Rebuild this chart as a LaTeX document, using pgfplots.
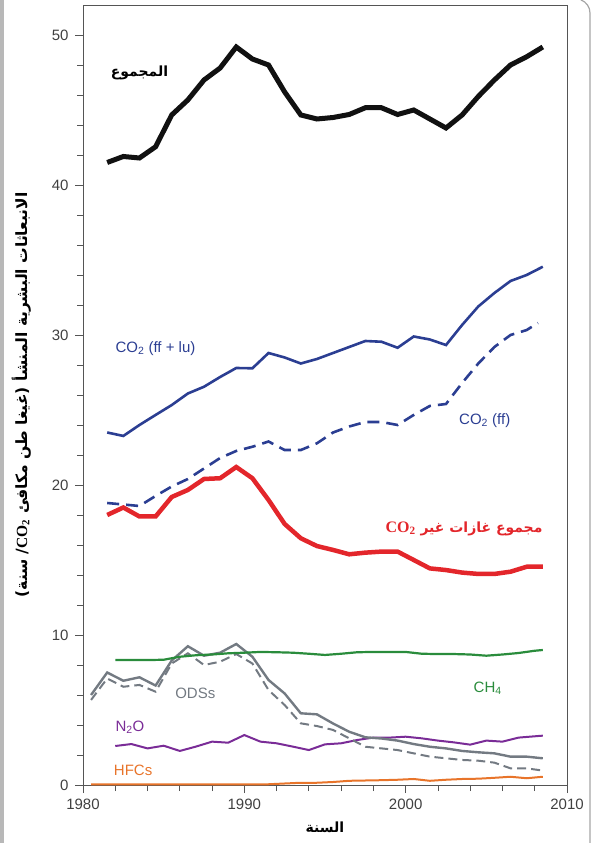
\documentclass[border=0pt]{standalone}
\usepackage{fontspec}
\setmainfont{Liberation Sans}
\newfontfamily\arabicfont[Script=Arabic]{DejaVu Sans}
\newfontfamily\seriffont{Liberation Serif}
\usepackage{pgfplots}
\pgfplotsset{compat=1.18}
\TeXXeTstate=1
\definecolor{cTot}{HTML}{111111}
\definecolor{cBlue}{HTML}{2B3E92}
\definecolor{cRed}{HTML}{E3262B}
\definecolor{cGreen}{HTML}{2A8C3C}
\definecolor{cGray}{HTML}{737A82}
\definecolor{cPurple}{HTML}{7A2C97}
\definecolor{cOrange}{HTML}{E8742A}
\definecolor{cAxis}{HTML}{555555}

\pgfplotstableread{
x y
1981.5 41.5
1982.5 41.9
1983.5 41.8
1984.5 42.55
1985.5 44.67
1986.5 45.67
1987.5 47.0
1988.5 47.8
1989.5 49.2
1990.5 48.4
1991.5 48.0
1992.5 46.2
1993.5 44.67
1994.5 44.4
1995.5 44.5
1996.5 44.7
1997.5 45.15
1998.5 45.15
1999.5 44.7
2000.5 45.0
2001.5 44.4
2002.5 43.8
2003.5 44.67
2004.5 45.9
2005.5 47.0
2006.5 48.0
2007.5 48.55
2008.5 49.2
}\total

\pgfplotstableread{
x y
1981.5 23.5
1982.5 23.27
1983.5 24.0
1984.5 24.67
1985.5 25.33
1986.5 26.1
1987.5 26.55
1988.5 27.2
1989.5 27.8
1990.5 27.78
1991.5 28.8
1992.5 28.5
1993.5 28.1
1994.5 28.4
1995.5 28.8
1996.5 29.2
1997.5 29.6
1998.5 29.55
1999.5 29.15
2000.5 29.9
2001.5 29.7
2002.5 29.33
2003.5 30.67
2004.5 31.9
2005.5 32.8
2006.5 33.6
2007.5 34.0
2008.5 34.55
}\cotwolu

\pgfplotstableread{
x y
1981.5 18.8
1982.5 18.7
1983.5 18.6
1984.5 19.27
1985.5 19.9
1986.5 20.4
1987.5 21.1
1988.5 21.8
1989.5 22.27
1990.5 22.55
1991.5 22.9
1992.5 22.33
1993.5 22.33
1994.5 22.78
1995.5 23.5
1996.5 23.9
1997.5 24.2
1998.5 24.2
1999.5 24.0
2000.5 24.67
2001.5 25.27
2002.5 25.4
2003.5 26.8
2004.5 28.1
2005.5 29.2
2006.5 30.0
2007.5 30.33
2008.2 30.8
}\cotwoff

\pgfplotstableread{
x y
1981.5 18.0
1982.5 18.5
1983.5 17.9
1984.5 17.9
1985.5 19.2
1986.5 19.67
1987.5 20.4
1988.5 20.45
1989.5 21.2
1990.5 20.45
1991.5 19.0
1992.5 17.4
1993.5 16.45
1994.5 15.93
1995.5 15.67
1996.5 15.38
1997.5 15.49
1998.5 15.56
1999.5 15.56
2000.5 15.0
2001.5 14.44
2002.5 14.33
2003.5 14.16
2004.5 14.07
2005.5 14.07
2006.5 14.22
2007.5 14.55
2008.5 14.55
}\nonco

\pgfplotstableread{
x y
1982 8.33
1983 8.33
1984 8.33
1985 8.35
1986 8.55
1987 8.65
1988 8.7
1989 8.78
1990 8.82
1991 8.87
1992 8.85
1993 8.82
1994 8.75
1995 8.67
1996 8.75
1997 8.85
1998 8.87
1999 8.87
2000 8.87
2001 8.75
2002 8.73
2003 8.73
2004 8.7
2005 8.62
2006 8.7
2007 8.8
2008 8.95
2008.5 9.0
}\chfour

\pgfplotstableread{
x y
1980.5 6.0
1981.5 7.5
1982.5 6.95
1983.5 7.18
1984.5 6.63
1985.5 8.3
1986.5 9.25
1987.5 8.62
1988.5 8.82
1989.5 9.4
1990.5 8.55
1991.5 7.0
1992.5 6.1
1993.5 4.78
1994.5 4.71
1995.5 4.1
1996.5 3.55
1997.5 3.18
1998.5 3.1
1999.5 2.96
2000.5 2.73
2001.5 2.55
2002.5 2.44
2003.5 2.27
2004.5 2.18
2005.5 2.11
2006.5 1.89
2007.5 1.89
2008.5 1.78
}\odsa

\pgfplotstableread{
x y
1980.5 5.67
1981.5 7.1
1982.5 6.55
1983.5 6.67
1984.5 6.22
1985.5 8.1
1986.5 8.78
1987.5 8.0
1988.5 8.22
1989.5 8.73
1990.5 8.1
1991.5 6.33
1992.5 5.33
1993.5 4.11
1994.5 3.93
1995.5 3.67
1996.5 3.11
1997.5 2.55
1998.5 2.44
1999.5 2.33
2000.5 2.11
2001.5 1.89
2002.5 1.78
2003.5 1.67
2004.5 1.62
2005.5 1.49
2006.5 1.11
2007.5 1.11
2008.5 0.96
}\odsb

\pgfplotstableread{
x y
1982 2.6
1983 2.73
1984 2.44
1985 2.62
1986 2.27
1987 2.56
1988 2.89
1989 2.82
1990 3.33
1991 2.89
1992 2.78
1993 2.56
1994 2.33
1995 2.71
1996 2.78
1997 3.0
1998 3.16
1999 3.16
2000 3.22
2001 3.11
2002 2.96
2003 2.84
2004 2.69
2005 2.96
2006 2.89
2007 3.16
2008.5 3.29
}\ntwoo

\pgfplotstableread{
x y
1980.5 0.05
1981.5 0.05
1982.5 0.05
1983.5 0.05
1984.5 0.05
1985.5 0.05
1986.5 0.05
1987.5 0.05
1988.5 0.05
1989.5 0.05
1990.5 0.05
1991.5 0.05
1992.5 0.1
1993.5 0.15
1994.5 0.15
1995.5 0.2
1996.5 0.28
1997.5 0.3
1998.5 0.32
1999.5 0.35
2000.5 0.4
2001.5 0.28
2002.5 0.35
2003.5 0.4
2004.5 0.42
2005.5 0.48
2006.5 0.55
2007.5 0.45
2008.5 0.55
}\hfc

\begin{document}
\begin{tikzpicture}
\useasboundingbox (-83pt,-58pt) rectangle (513pt,785pt);
\fill[black!28] (-83pt,-58pt) rectangle (-79pt,785pt);
\draw[black!35, line width=1.2pt] (507pt,-58pt) -- (507pt,772pt) arc[start angle=0,end angle=70,radius=14pt];
\begin{axis}[
  width=484pt, height=780pt, scale only axis,
  xmin=1980, xmax=2010, ymin=0, ymax=52,
  axis line style={cAxis, line width=0.8pt},
  tick style={cAxis, line width=0.8pt},
  tick align=outside, xtick pos=left, ytick pos=left,
  xtick={1980,1990,2000,2010},
  minor xtick={1982,1984,...,2008},
  ytick={0,10,...,50},
  minor ytick={2,4,...,48},
  major tick length=8pt, minor tick length=6pt,
  /pgf/number format/1000 sep={},
  /pgf/number format/assume math mode=true,
  tick label style={font=\fontsize{15}{18}\selectfont, text=black!75},
  xticklabel style={yshift=-2pt},
  yticklabel style={xshift=-3pt},
  xlabel={\arabicfont\bfseries\fontsize{14}{16}\selectfont\beginR السنة\endR},
  xlabel style={yshift=-6pt},
  ylabel={\arabicfont\bfseries\fontsize{15.5}{18}\selectfont\beginR الانبعاثات البشرية المنشأ (غيغا طن مكافئ \beginL{\seriffont\bfseries CO\textsubscript{2}}\endL/ سنة)\endR},
  ylabel style={yshift=14pt},
  clip=false,
]
\addplot[cOrange, line width=2pt] table {\hfc};
\addplot[cPurple, line width=2pt] table {\ntwoo};
\addplot[cGray, line width=2pt, dash pattern=on 9pt off 5pt] table {\odsb};
\addplot[cGray, line width=2.4pt] table {\odsa};
\addplot[cGreen, line width=2.2pt] table {\chfour};
\addplot[cRed, line width=4.5pt] table {\nonco};
\addplot[cBlue, line width=2.6pt, dash pattern=on 12pt off 7pt] table {\cotwoff};
\addplot[cBlue, line width=2.6pt] table {\cotwolu};
\addplot[cTot, line width=5pt] table {\total};

\node[font=\arabicfont\bfseries\fontsize{14}{16}\selectfont] at (axis cs:1983.5,47.5) {\beginR المجموع\endR};
\node[anchor=west, text=cBlue, font=\fontsize{15}{18}\selectfont] at (axis cs:1981.8,29.1) {CO\textsubscript{2} (ff + lu)};
\node[anchor=west, text=cBlue, font=\fontsize{15}{18}\selectfont] at (axis cs:2003.1,24.3) {CO\textsubscript{2} (ff)};
\node[anchor=east, text=cRed, font=\arabicfont\bfseries\fontsize{14}{16}\selectfont] at (axis cs:2008.7,17.1) {\beginR مجموع غازات غير \beginL{\seriffont\bfseries\fontsize{16}{18}\selectfont CO\textsubscript{2}}\endL\endR};
\node[anchor=west, text=cGreen, font=\fontsize{15}{18}\selectfont] at (axis cs:2004.0,6.45) {CH\textsubscript{4}};
\node[anchor=west, text=cGray, font=\fontsize{15}{18}\selectfont] at (axis cs:1985.5,6.13) {ODSs};
\node[anchor=west, text=cPurple, font=\fontsize{15}{18}\selectfont] at (axis cs:1981.8,3.87) {N\textsubscript{2}O};
\node[anchor=west, text=cOrange, font=\fontsize{15}{18}\selectfont] at (axis cs:1981.7,1.0) {HFCs};
\end{axis}
\end{tikzpicture}
\end{document}
